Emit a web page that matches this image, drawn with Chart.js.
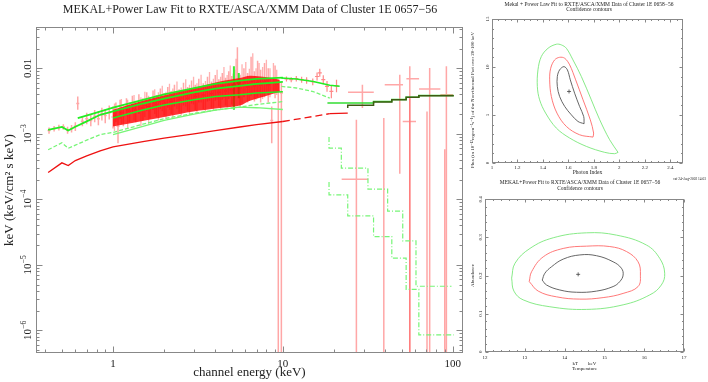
<!DOCTYPE html>
<html>
<head>
<meta charset="utf-8">
<script src="https://cdn.jsdelivr.net/npm/chart.js@4.4.1/dist/chart.umd.min.js"></script>
<style>
body { margin: 0; background: #fff; width: 708px; height: 382px; position: relative; overflow: hidden; }
canvas { position: absolute; }
#main { left: 0; top: 0; }
#fluxc { left: 470px; top: 0; }
#abuc { left: 470px; top: 172px; }
</style>
</head>
<body>
<canvas id="main" width="470" height="382"></canvas>
<canvas id="fluxc" width="238" height="190"></canvas>
<canvas id="abuc" width="238" height="210"></canvas>
<script>
// ---------- spectrum: XMM/ASCA points (keV, flux) ----------
const xmmE  = [0.42,0.45,0.48,0.51,0.54,0.57,0.6,0.62,0.66,0.7,0.74,0.78,0.82,0.86,0.9,0.95,1.0,1.04,1.07,1.1,1.15,1.2,1.25,1.3,1.36,1.42,1.5,1.58,1.65,1.72,1.8,1.9,2.0,2.1,2.2,2.3,2.45,2.6,2.75,2.9,3.05,3.2,3.4,3.6,3.8,4.0,4.2,4.4,4.6,4.8,5.0,5.2,5.4,5.6,5.9,6.2,6.5,6.8,7.1,7.4,7.8,8.2,8.6,9.0,9.4,9.8];
const xmmF  = [1.12e-3,1.2e-3,1.24e-3,1.28e-3,1.14e-3,1.2e-3,1.3e-3,2.9e-3,1.55e-3,1.7e-3,1.6e-3,1.85e-3,1.7e-3,2.0e-3,1.9e-3,2.1e-3,1.8e-3,2.2e-3,1.3e-3,2.4e-3,1.9e-3,2.6e-3,2.2e-3,2.8e-3,2.3e-3,2.9e-3,2.5e-3,3.1e-3,2.6e-3,3.3e-3,2.8e-3,3.4e-3,2.9e-3,3.6e-3,3.1e-3,3.8e-3,3.3e-3,4.0e-3,3.5e-3,4.3e-3,3.7e-3,4.5e-3,3.9e-3,4.8e-3,4.1e-3,5.0e-3,4.3e-3,5.3e-3,4.5e-3,5.5e-3,4.7e-3,5.8e-3,6.5e-3,5.0e-3,6.0e-3,5.2e-3,6.3e-3,5.4e-3,6.0e-3,5.5e-3,6.2e-3,5.6e-3,1.6e-3,6.0e-3,4.5e-3,4.2e-3];
const xmmLo = [1.0e-3,1.08e-3,1.12e-3,1.15e-3,1.0e-3,1.05e-3,1.1e-3,2.33e-3,1.3e-3,1.4e-3,1.3e-3,1.5e-3,1.35e-3,1.6e-3,1.45e-3,1.65e-3,1.2e-3,1.5e-3,7.2e-4,1.7e-3,1.3e-3,1.9e-3,1.5e-3,2.0e-3,1.5e-3,2.0e-3,1.6e-3,2.2e-3,1.7e-3,2.3e-3,1.8e-3,2.4e-3,1.9e-3,2.5e-3,2.0e-3,2.6e-3,2.1e-3,2.7e-3,2.2e-3,2.9e-3,2.3e-3,3.0e-3,2.4e-3,3.1e-3,2.5e-3,3.2e-3,2.6e-3,3.3e-3,2.7e-3,3.4e-3,2.8e-3,3.5e-3,4.0e-3,2.6e-3,3.6e-3,3.0e-3,3.8e-3,3.1e-3,3.5e-3,3.0e-3,3.6e-3,3.0e-3,7.2e-4,3.5e-3,1e-9,1e-9];
const xmmHi = [1.25e-3,1.32e-3,1.38e-3,1.4e-3,1.28e-3,1.36e-3,1.5e-3,3.7e-3,1.85e-3,2.1e-3,2.0e-3,2.3e-3,2.2e-3,2.5e-3,2.4e-3,2.7e-3,2.6e-3,3.0e-3,1.9e-3,3.3e-3,2.6e-3,3.5e-3,3.0e-3,3.8e-3,3.2e-3,4.0e-3,3.5e-3,4.3e-3,3.6e-3,4.6e-3,3.9e-3,4.9e-3,4.2e-3,5.2e-3,4.5e-3,5.6e-3,4.8e-3,6.0e-3,5.2e-3,6.5e-3,5.6e-3,6.9e-3,5.9e-3,7.4e-3,6.3e-3,7.9e-3,6.8e-3,8.5e-3,7.2e-3,9.0e-3,7.6e-3,9.6e-3,2.1e-2,8.0e-3,1.0e-2,8.5e-3,1.5e-2,9.0e-3,1.3e-2,9.5e-3,1.2e-2,1.0e-2,2.6e-3,1.1e-2,6.7e-3,6.0e-3];

// more XMM points inside the dense band
const xmm2E  = [1.02,1.12,1.22,1.33,1.46,1.54,1.62,1.76,1.85,1.95,2.05,2.15,2.25,2.38,2.52,2.68,2.82,2.98,3.12,3.3,3.5,3.7,3.9,4.1,4.3,4.5,4.7,4.9,5.1,5.3,5.75,6.05,6.35,6.65,6.95,7.25,7.6,8.0,8.4,8.8,9.2];
const xmm2F  = [1.9e-3,2.1e-3,2.3e-3,2.4e-3,2.5e-3,2.7e-3,2.6e-3,3.0e-3,3.1e-3,3.2e-3,3.0e-3,3.4e-3,3.5e-3,3.6e-3,3.5e-3,3.9e-3,4.0e-3,4.2e-3,4.1e-3,4.5e-3,4.4e-3,4.8e-3,4.7e-3,5.1e-3,5.0e-3,5.4e-3,5.2e-3,5.6e-3,5.4e-3,6.0e-3,5.6e-3,6.2e-3,5.8e-3,6.4e-3,5.9e-3,6.3e-3,6.0e-3,6.4e-3,5.8e-3,6.1e-3,5.7e-3];
const xmm2Lo = [1.1e-3,1.4e-3,1.2e-3,1.6e-3,1.3e-3,1.8e-3,1.4e-3,2.0e-3,1.6e-3,2.2e-3,1.7e-3,2.3e-3,1.8e-3,2.4e-3,1.9e-3,2.6e-3,2.0e-3,2.8e-3,2.1e-3,3.0e-3,2.2e-3,3.2e-3,2.3e-3,3.3e-3,2.4e-3,3.5e-3,2.5e-3,3.6e-3,2.6e-3,3.8e-3,2.9e-3,4.0e-3,3.2e-3,4.2e-3,3.3e-3,4.0e-3,3.4e-3,4.2e-3,3.6e-3,4.3e-3,3.9e-3];
const xmm2Hi = [2.9e-3,3.4e-3,3.3e-3,3.9e-3,3.6e-3,4.4e-3,3.8e-3,4.8e-3,4.3e-3,5.4e-3,4.4e-3,5.8e-3,4.9e-3,6.3e-3,5.1e-3,6.8e-3,5.6e-3,7.4e-3,5.9e-3,8.0e-3,6.4e-3,8.8e-3,6.9e-3,9.5e-3,7.4e-3,1.05e-2,7.9e-3,1.1e-2,8.3e-3,1.4e-2,1.15e-2,1.25e-2,9.8e-3,1.7e-2,1.0e-2,1.2e-2,1.05e-2,1.35e-2,1.0e-2,1.2e-2,9.5e-3];

// dense core of the XMM points
const coreE  = [1.0,1.44,2.07,2.97,4.26,5.58,6.4,8.4,9.6];
const coreHi = [2.33e-3,3.12e-3,3.95e-3,5.0e-3,6.3e-3,7.1e-3,7.7e-3,7.2e-3,6.7e-3];
const coreLo = [1.29e-3,1.54e-3,1.84e-3,2.19e-3,2.47e-3,2.7e-3,3.2e-3,3.95e-3,4.4e-3];

// green data bars
const ascaE  = [5.15, 5.5];
const ascaF  = [5.5e-3, 6.0e-3];
const ascaLo = [2.33e-3, 3.5e-3];
const ascaHi = [1.07e-2, 8.5e-3];

// PCA points
const pcaE  = [10.5,11.2,12.0,12.9,13.8,15.0,15.9,16.5,17.3,18.2,19.3,20.7];
const pcaF  = [6.86e-3,6.7e-3,6.93e-3,6.7e-3,6.53e-3,6.24e-3,7.5e-3,8.5e-3,6.7e-3,5.3e-3,4.43e-3,5.4e-3];
const pcaLo = [6.3e-3,6.1e-3,6.3e-3,6.0e-3,5.8e-3,5.5e-3,6.5e-3,7.4e-3,5.7e-3,4.4e-3,3.5e-3,4.3e-3];
const pcaHi = [7.5e-3,7.3e-3,7.6e-3,7.4e-3,7.3e-3,7.0e-3,8.6e-3,9.8e-3,7.8e-3,6.4e-3,5.5e-3,6.7e-3];

// HEXTE points (1e-9 = runs off the bottom)
const hexE   = [29.4,48.8,55.9,55.9,73.2,91.8,27.1,39.3,70.6,89.8];
const hexElo = [24.2,39.8,53.4,50.8,63.4,84.6,22.2,34.3,63.4,84.6];
const hexEhi = [34.3,51.0,63.4,60.8,84.6,100.4,31.8,43.8,84.6,100.4];
const hexF   = [4.29e-3,5.6e-3,6.93e-3,1.54e-3,4.83e-3,3.95e-3,2.03e-4,1e-9,1e-9,1e-9];
const hexLo  = [2.47e-3,2.45e-4,1e-9,1e-9,1e-9,1e-9,1e-9,1e-9,1e-9,1e-9];
const hexHi  = [5.6e-3,7.99e-3,1.07e-2,3.5e-3,1.01e-2,1.07e-2,1.64e-3,1.74e-3,2.19e-3,5.8e-4];

// models
const plE = [0.415,0.5,0.545,0.6,0.7,0.84,1,1.5,2,3,4,5.58,7,10,14,18.9,24.1];
const plF = [2.56e-4,3.6e-4,3.27e-4,3.9e-4,4.6e-4,5.5e-4,6.3e-4,7.6e-4,8.6e-4,1.0e-3,1.12e-3,1.27e-3,1.38e-3,1.54e-3,1.78e-3,2.03e-3,2.07e-3];
const mAE = [0.415,0.5,0.545,0.6,0.7,0.84,1.0,1.5,2,3,4,5.58,7,8.5,10];
const mAF = [1.15e-3,1.27e-3,1.12e-3,1.28e-3,1.55e-3,1.95e-3,2.2e-3,2.9e-3,3.45e-3,4.3e-3,4.9e-3,5.4e-3,5.8e-3,6.0e-3,6.2e-3];
const mBE = [0.62,0.8,1,1.5,2,3,4,5.58,7,10];
const mBF = [1.74e-3,2.1e-3,2.5e-3,3.3e-3,4.0e-3,5.0e-3,5.8e-3,6.5e-3,6.9e-3,7.2e-3];
const mCE = [1,1.5,2,3,4,5.58,7,10];
const mCF = [1.74e-3,2.3e-3,2.75e-3,3.3e-3,3.7e-3,3.95e-3,4.2e-3,4.4e-3];
const mDE = [1,1.5,2,3,4,5.58,7,10];
const mDF = [9.7e-4,1.3e-3,1.6e-3,2.0e-3,2.3e-3,2.56e-3,2.5e-3,2.35e-3];
const mEE = [0.415,0.5,0.545,0.6,0.7,0.84,1,1.5,2,3,4,5.58,7,10];
const mEF = [5.7e-4,7.3e-4,6.0e-4,6.7e-4,8.0e-4,9.7e-4,1.05e-3,1.4e-3,1.7e-3,2.05e-3,2.3e-3,2.56e-3,2.8e-3,3.1e-3];
const pcaModE  = [9.8,12,15.1,18.9,21.6];
const pcaModF  = [7.1e-3,6.85e-3,6.3e-3,5.5e-3,5.3e-3];
const pcaMod2E = [9.8,12,15.1,18.9];
const pcaMod2F = [5.3e-3,5.0e-3,4.4e-3,3.5e-3];
const hexModE = [24.1,34.2,43.8,53.2,63.2,85,101.5];
const hexModF = [2.47e-3,2.73e-3,3.05e-3,3.31e-3,3.62e-3,3.81e-3];
const hexGrnE = [18.3,34.2,43.8,53.2,63.2,85,101.5];
const hexGrnF = [2.95e-3,2.95e-3,3.1e-3,3.35e-3,3.62e-3,3.85e-3];
const stepAE = [18.7,22.1,31.7,41.4,50.8,60.8,79.4,98.4];
const stepAF = [8.9e-4,6.05e-4,3.0e-4,1.43e-4,6.6e-5,2.32e-5,4.7e-6];
const stepBE = [18.7,24.1,34.2,43.8,53.2,63.2,85,101.5];
const stepBF = [1.83e-4,1.17e-4,5.6e-5,2.7e-5,1.26e-5,4.2e-6,8.5e-7];

// axis ticks
const xMajor = [1, 10, 100];
const yMajor = [1e-2, 1e-3, 1e-4, 1e-5, 1e-6];
const yLabels = ['0.01', '10^−3', '10^−4', '10^−5', '10^−6'];

// ---------- confidence contours ----------
const fluxBlackX = [1.723,1.72,1.688,1.649,1.615,1.592,1.565,1.531,1.513,1.513,1.531,1.571,1.623,1.675,1.723];
const fluxBlackY = [4.09,4.85,5.89,7.27,8.66,9.70,10.04,9.70,9.0,7.97,6.93,5.89,5.02,4.33,4.09];
const fluxRedX = [1.793,1.798,1.772,1.715,1.657,1.610,1.571,1.531,1.492,1.461,1.453,1.466,1.510,1.584,1.688,1.793];
const fluxRedY = [2.70,3.12,4.50,6.58,8.66,10.22,10.91,11.01,10.74,9.87,8.66,6.93,5.20,3.81,2.94,2.70];
const fluxGreenX = [1.99,1.924,1.846,1.780,1.702,1.636,1.584,1.545,1.505,1.440,1.387,1.361,1.356,1.374,1.421,1.505,1.610,1.741,1.885,1.963,1.99];
const fluxGreenY = [1.11,2.42,4.50,6.58,9.0,10.74,11.95,12.30,12.37,11.95,11.08,9.70,7.97,6.58,5.20,3.64,2.60,1.73,1.11,0.97,1.11];
const fluxBest = [1.605, 7.45];

const abuBlackX = [13.438,13.505,13.672,13.965,14.383,14.80,15.219,15.428,15.47,15.386,15.219,14.80,14.30,13.88,13.547,13.438];
const abuBlackY = [0.188,0.206,0.223,0.243,0.254,0.252,0.236,0.219,0.201,0.184,0.171,0.159,0.156,0.162,0.175,0.188];
const abuRedX = [13.112,13.171,13.463,13.965,14.55,15.135,15.553,15.846,15.905,15.846,15.47,14.968,14.383,13.798,13.338,13.112];
const abuRedY = [0.184,0.210,0.249,0.271,0.277,0.276,0.263,0.236,0.201,0.171,0.153,0.142,0.138,0.144,0.159,0.184];
const abuGreenX = [12.669,12.753,13.129,13.714,14.55,15.303,16.055,16.39,16.515,16.43,16.139,15.47,14.55,13.63,12.96,12.727,12.669];
const abuGreenY = [0.193,0.232,0.271,0.299,0.312,0.306,0.280,0.245,0.206,0.175,0.149,0.123,0.111,0.118,0.136,0.159,0.193];
const abuBest = [14.341, 0.203];

const serif = "'Liberation Serif', 'DejaVu Serif', serif";
Chart.defaults.font.family = serif;
Chart.defaults.color = '#222';

const mkPts = (xs, ys) => xs.map((v, i) => ({x: v, y: ys[i]}));
const mkSteps = (edges, vals) => edges.map((e, i) => ({x: e, y: vals[Math.min(i, vals.length - 1)]}));
const line = (data, color, width, extra) => Object.assign({data: data, borderColor: color, borderWidth: width, pointRadius: 0, fill: false, tension: 0}, extra || {});

// draws "10^-3" style labels, rotated frame already set up
function supLabel(ctx, txt, size) {
    const parts = txt.split('^');
    ctx.font = size + 'px ' + serif;
    const wb = ctx.measureText(parts[0]).width;
    let we = 0;
    if (parts[1]) { ctx.font = (size * 0.7) + 'px ' + serif; we = ctx.measureText(parts[1]).width; }
    const x0 = -(wb + we) / 2;
    ctx.textAlign = 'left';
    ctx.font = size + 'px ' + serif;
    ctx.fillText(parts[0], x0, 0);
    if (parts[1]) {
        ctx.font = (size * 0.7) + 'px ' + serif;
        ctx.fillText(parts[1], x0 + wb, -size * 0.45);
    }
}

// frame with inward ticks on all four sides + rotated y labels + loose texts
function framer(o) {
    return {
        id: 'framer',
        afterDatasetsDraw(chart) {
            const {ctx, chartArea: a, scales: {x, y}} = chart;
            ctx.save();
            ctx.strokeStyle = o.color;
            ctx.lineWidth = 1;
            const L = Math.round(a.left) + 0.5, R = Math.round(a.right) - 0.5;
            const T = Math.round(a.top) + 0.5, B = Math.round(a.bottom) - 0.5;
            ctx.strokeRect(L, T, R - L, B - T);
            ctx.beginPath();
            const inX = v => v >= x.min && v <= x.max, inY = v => v >= y.min && v <= y.max;
            const xt = (v, len) => { if (!inX(v)) return; const p = Math.round(x.getPixelForValue(v)) + 0.5; ctx.moveTo(p, B); ctx.lineTo(p, B - len); ctx.moveTo(p, T); ctx.lineTo(p, T + len); };
            const yt = (v, len) => { if (!inY(v)) return; const p = Math.round(y.getPixelForValue(v)) + 0.5; ctx.moveTo(L, p); ctx.lineTo(L + len, p); ctx.moveTo(R, p); ctx.lineTo(R - len, p); };
            o.xMajor.forEach(v => xt(v, o.major));
            o.xMinor.forEach(v => xt(v, o.minor));
            o.yMajor.forEach(v => yt(v, o.major));
            o.yMinor.forEach(v => yt(v, o.minor));
            ctx.stroke();
            ctx.fillStyle = '#222';
            ctx.textBaseline = 'alphabetic';
            o.yMajor.forEach((v, i) => {
                ctx.save();
                ctx.translate(o.yLabelX, y.getPixelForValue(v));
                ctx.rotate(-Math.PI / 2);
                supLabel(ctx, o.yLabels[i], o.labelSize);
                ctx.restore();
            });
            (o.texts || []).forEach(t => {
                ctx.save();
                ctx.font = t.size + 'px ' + serif;
                ctx.textAlign = t.align || 'center';
                ctx.textBaseline = 'middle';
                ctx.translate(t.x, t.y);
                if (t.rot) ctx.rotate(-Math.PI / 2);
                ctx.fillText(t.t, 0, 0);
                ctx.restore();
            });
            ctx.restore();
        }
    };
}

// error crosses for the spectrum
const barGroups = [
    {e: xmmE, f: xmmF, lo: xmmLo, hi: xmmHi, color: 'rgba(255,60,60,0.45)', w: 1.5, cap: 1.5},
    {e: xmm2E, f: xmm2F, lo: xmm2Lo, hi: xmm2Hi, color: 'rgba(255,60,60,0.4)', w: 1.3, cap: 1.5},
    {e: pcaE, f: pcaF, lo: pcaLo, hi: pcaHi, color: 'rgba(255,40,40,0.55)', w: 1.2, cap: 2},
    {e: hexE, elo: hexElo, ehi: hexEhi, f: hexF, lo: hexLo, hi: hexHi, color: 'rgba(255,80,80,0.5)', w: 1.5},
    {e: ascaE, f: ascaF, lo: ascaLo, hi: ascaHi, color: '#33ee33', w: 2, cap: 2}
];
const errorBars = {
    id: 'errorBars',
    beforeDatasetsDraw(chart) {
        const {ctx, chartArea: a, scales: {x, y}} = chart;
        ctx.save();
        ctx.beginPath();
        ctx.rect(a.left, a.top, a.width, a.height);
        ctx.clip();
        barGroups.forEach(g => {
            ctx.strokeStyle = g.color;
            ctx.lineWidth = g.w;
            g.e.forEach((e, i) => {
                const px = x.getPixelForValue(e), py = y.getPixelForValue(g.f[i]);
                ctx.beginPath();
                if (g.elo) {
                    ctx.moveTo(x.getPixelForValue(g.elo[i]), py);
                    ctx.lineTo(x.getPixelForValue(g.ehi[i]), py);
                } else {
                    ctx.moveTo(px - g.cap, py);
                    ctx.lineTo(px + g.cap, py);
                }
                ctx.moveTo(px, y.getPixelForValue(g.lo[i]));
                ctx.lineTo(px, y.getPixelForValue(g.hi[i]));
                ctx.stroke();
            });
        });
        ctx.restore();
    }
};

const minorLog = (lo, hi) => {
    const out = [];
    for (let d = lo; d <= hi; d *= 10) for (let m = 2; m <= 9; m++) out.push(+(m * d).toPrecision(3));
    return out;
};

const grn = '#22ee22', grnLight = '#77f577';
new Chart(document.getElementById('main'), {
    type: 'line',
    data: {
        datasets: [
            line(mkPts(plE, plF), '#ee1111', 1.3, {segment: {borderDash: c => (c.p0.parsed.x >= 9.9 && c.p1.parsed.x <= 19) ? [7, 4] : undefined}}),
            line(mkSteps(hexModE, hexModF), '#3d5a12', 1.5, {stepped: 'after'}),
            line(mkSteps(hexGrnE, hexGrnF), '#33dd33', 1.5, {stepped: 'after'}),
            line(mkPts(mAE, mAF), grn, 1.8),
            line(mkPts(mBE, mBF), grn, 1.8),
            line(mkPts(mCE, mCF), grn, 1.5),
            line(mkPts(mDE, mDF), grnLight, 1.3),
            line(mkPts(mEE, mEF), grnLight, 1.3, {borderDash: [4, 2]}),
            line(mkPts(pcaModE, pcaModF), grn, 1.5),
            line(mkPts(pcaMod2E, pcaMod2F), grnLight, 1.3, {borderDash: [4, 2]}),
            line(mkSteps(stepAE, stepAF), grnLight, 1.2, {stepped: 'after', borderDash: [5, 2, 1, 2]}),
            line(mkSteps(stepBE, stepBF), grnLight, 1.2, {stepped: 'after', borderDash: [5, 2, 1, 2]}),
            {data: mkPts(coreE, coreHi), borderWidth: 0, pointRadius: 0, tension: 0.3, backgroundColor: 'rgba(255,0,0,0.8)', fill: '+1'},
            {data: mkPts(coreE, coreLo), borderWidth: 0, pointRadius: 0, tension: 0.3, fill: false}
        ]
    },
    options: {
        responsive: false,
        animation: false,
        layout: {padding: {top: 27, right: 7, left: 0, bottom: 0}},
        plugins: {
            legend: {display: false},
            tooltip: {enabled: false}
        },
        scales: {
            x: {
                type: 'logarithmic', min: 0.352, max: 115,
                grid: {display: false, drawTicks: false}, border: {display: false},
                afterBuildTicks: s => { s.ticks = xMajor.map(v => ({value: v})); },
                afterFit: s => { s.height = 29; },
                ticks: {callback: v => String(v), autoSkip: false, maxRotation: 0, padding: 5, color: '#222', font: {size: 11}},
                title: {display: true, text: 'channel energy (keV)', color: '#222', font: {size: 13}, padding: {top: 0, bottom: 1.5}}
            },
            y: {
                type: 'logarithmic', min: 4.5e-7, max: 0.0427,
                grid: {display: false, drawTicks: false}, border: {display: false},
                ticks: {display: false},
                afterFit: s => { s.width = 36; },
                title: {display: true, text: 'keV (keV/cm² s keV)', color: '#222', font: {size: 13}, padding: {top: 1.5, bottom: 0}}
            }
        }
    },
    plugins: [errorBars, framer({
        color: '#888', major: 6, minor: 3,
        xMajor: xMajor, xMinor: minorLog(0.1, 10),
        yMajor: yMajor, yMinor: minorLog(1e-7, 1e-2),
        yLabels: yLabels, yLabelX: 31, labelSize: 11,
        texts: [
            {t: 'MEKAL+Power Law Fit to RXTE/ASCA/XMM Data of Cluster 1E 0657−56', x: 250, y: 10, size: 12}
        ]
    })]
});

// ---------- top right: photon index vs flux ----------
const cBlack = '#555', cRed = '#ff6a6a', cGreen = '#7ae87a';
const smallFont = 5;
new Chart(document.getElementById('fluxc'), {
    type: 'line',
    data: {
        datasets: [
            {data: [{x: fluxBest[0], y: fluxBest[1]}], showLine: false, pointStyle: 'cross', pointRadius: 2, borderColor: '#444', borderWidth: 0.8},
            line(mkPts(fluxBlackX, fluxBlackY), cBlack, 0.9, {tension: 0.35}),
            line(mkPts(fluxRedX, fluxRedY), cRed, 0.9, {tension: 0.35}),
            line(mkPts(fluxGreenX, fluxGreenY), cGreen, 0.9, {tension: 0.35})
        ]
    },
    options: {
        responsive: false,
        animation: false,
        layout: {padding: {top: 19, right: 25, left: 0, bottom: 0}},
        plugins: {
            legend: {display: false},
            tooltip: {enabled: false}
        },
        scales: {
            x: {
                type: 'linear', min: 1, max: 2.5,
                grid: {display: false, drawTicks: false}, border: {display: false},
                afterBuildTicks: s => { s.ticks = [1, 1.2, 1.4, 1.6, 1.8, 2, 2.2, 2.4].map(v => ({value: v})); },
                afterFit: s => { s.height = 27; },
                ticks: {callback: v => String(Math.round(v * 10) / 10), autoSkip: false, maxRotation: 0, padding: 2, font: {size: smallFont}},
                title: {display: true, text: 'Photon Index', font: {size: 5.5}, padding: {top: 0, bottom: 14}}
            },
            y: {
                type: 'linear', min: 0, max: 15,
                grid: {display: false, drawTicks: false}, border: {display: false},
                ticks: {display: false},
                afterFit: s => { s.width = 22; }
            }
        }
    },
    plugins: [framer({
        color: '#888', major: 3, minor: 1.5,
        xMajor: [1, 1.2, 1.4, 1.6, 1.8, 2, 2.2, 2.4],
        xMinor: [1.05, 1.1, 1.15, 1.25, 1.3, 1.35, 1.45, 1.5, 1.55, 1.65, 1.7, 1.75, 1.85, 1.9, 1.95, 2.05, 2.1, 2.15, 2.25, 2.3, 2.35, 2.45],
        yMajor: [0, 5, 10, 15], yMinor: [1, 2, 3, 4, 6, 7, 8, 9, 11, 12, 13, 14],
        yLabels: ['0', '5', '10', '15'], yLabelX: 18.5, labelSize: smallFont,
        texts: [
            {t: 'Mekal + Power Law Fit to RXTE/ASCA/XMM Data of Cluster 1E 0658−56', x: 119, y: 4.5, size: 5.5},
            {t: 'Confidence contours', x: 119, y: 10, size: 5.5},
            {t: 'Flux (in 10⁻¹²ergcm⁻²s⁻¹) of the Non-thermal Part over 20-100 keV', x: 2.5, y: 100, size: 5, rot: true},
            {t: 'caf 24-Aug-2002 14:03', x: 236, y: 179, size: 3.5, align: 'right'}
        ]
    })]
});

// ---------- bottom right: temperature vs abundance ----------
new Chart(document.getElementById('abuc'), {
    type: 'line',
    data: {
        datasets: [
            {data: [{x: abuBest[0], y: abuBest[1]}], showLine: false, pointStyle: 'cross', pointRadius: 2, borderColor: '#444', borderWidth: 0.8},
            line(mkPts(abuBlackX, abuBlackY), cBlack, 0.9, {tension: 0.4}),
            line(mkPts(abuRedX, abuRedY), cRed, 0.9, {tension: 0.4}),
            line(mkPts(abuGreenX, abuGreenY), cGreen, 0.9, {tension: 0.4})
        ]
    },
    options: {
        responsive: false,
        animation: false,
        layout: {padding: {top: 27.3, right: 24, left: 0, bottom: 0}},
        plugins: {
            legend: {display: false},
            tooltip: {enabled: false}
        },
        scales: {
            x: {
                type: 'linear', min: 12, max: 17,
                grid: {display: false, drawTicks: false}, border: {display: false},
                afterBuildTicks: s => { s.ticks = [12, 13, 14, 15, 16, 17].map(v => ({value: v})); },
                afterFit: s => { s.height = 30.3; },
                ticks: {autoSkip: false, maxRotation: 0, padding: 3, font: {size: smallFont}},
                title: {display: true, text: ['kT        keV', 'Temperature'], font: {size: 5, lineHeight: 1}, padding: {top: 0, bottom: 11}}
            },
            y: {
                type: 'linear', min: 0, max: 0.4,
                grid: {display: false, drawTicks: false}, border: {display: false},
                ticks: {display: false},
                afterFit: s => { s.width = 15; }
            }
        }
    },
    plugins: [framer({
        color: '#888', major: 3, minor: 1.5,
        xMajor: [12, 13, 14, 15, 16, 17],
        xMinor: [12.2, 12.4, 12.6, 12.8, 13.2, 13.4, 13.6, 13.8, 14.2, 14.4, 14.6, 14.8, 15.2, 15.4, 15.6, 15.8, 16.2, 16.4, 16.6, 16.8],
        yMajor: [0, 0.1, 0.2, 0.3, 0.4],
        yMinor: [0.02, 0.04, 0.06, 0.08, 0.12, 0.14, 0.16, 0.18, 0.22, 0.24, 0.26, 0.28, 0.32, 0.34, 0.36, 0.38],
        yLabels: ['0', '0.1', '0.2', '0.3', '0.4'], yLabelX: 11.5, labelSize: smallFont,
        texts: [
            {t: 'MEKAL+Power Fit to RXTE/ASCA/XMM Data of Cluster 1E 0657−56', x: 110, y: 11, size: 5.5},
            {t: 'Confidence contours', x: 110, y: 17, size: 5.5},
            {t: 'Abundance', x: 2.5, y: 103.5, size: 5, rot: true}
        ]
    })]
});
</script>
</body>
</html>
